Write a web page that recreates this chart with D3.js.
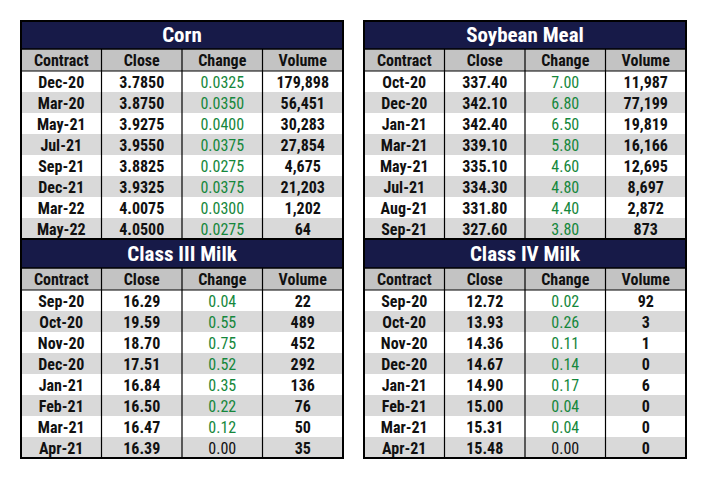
<!DOCTYPE html>
<html><head><meta charset="utf-8">
<script src="https://cdn.jsdelivr.net/npm/d3@7"></script>
<style>body{margin:0;background:#fff}</style>
</head><body>
<div id="chart"></div>
<script>
var TABLES = [
    { title: 'Corn', x: 21, y: 21, rows: [
        ['Dec-20', '3.7850', '0.0325', '179,898'],
        ['Mar-20', '3.8750', '0.0350', '56,451'],
        ['May-21', '3.9275', '0.0400', '30,283'],
        ['Jul-21', '3.9550', '0.0375', '27,854'],
        ['Sep-21', '3.8825', '0.0275', '4,675'],
        ['Dec-21', '3.9325', '0.0375', '21,203'],
        ['Mar-22', '4.0075', '0.0300', '1,202'],
        ['May-22', '4.0500', '0.0275', '64']] },
    { title: 'Soybean Meal', x: 364, y: 21, rows: [
        ['Oct-20', '337.40', '7.00', '11,987'],
        ['Dec-20', '342.10', '6.80', '77,199'],
        ['Jan-21', '342.40', '6.50', '19,819'],
        ['Mar-21', '339.10', '5.80', '16,166'],
        ['May-21', '335.10', '4.60', '12,695'],
        ['Jul-21', '334.30', '4.80', '8,697'],
        ['Aug-21', '331.80', '4.40', '2,872'],
        ['Sep-21', '327.60', '3.80', '873']] },
    { title: 'Class III Milk', x: 21, y: 240, rows: [
        ['Sep-20', '16.29', '0.04', '22'],
        ['Oct-20', '19.59', '0.55', '489'],
        ['Nov-20', '18.70', '0.75', '452'],
        ['Dec-20', '17.51', '0.52', '292'],
        ['Jan-21', '16.84', '0.35', '136'],
        ['Feb-21', '16.50', '0.22', '76'],
        ['Mar-21', '16.47', '0.12', '50'],
        ['Apr-21', '16.39', '0.00', '35']] },
    { title: 'Class IV Milk', x: 364, y: 240, rows: [
        ['Sep-20', '12.72', '0.02', '92'],
        ['Oct-20', '13.93', '0.26', '3'],
        ['Nov-20', '14.36', '0.11', '1'],
        ['Dec-20', '14.67', '0.14', '0'],
        ['Jan-21', '14.90', '0.17', '6'],
        ['Feb-21', '15.00', '0.04', '0'],
        ['Mar-21', '15.31', '0.04', '0'],
        ['Apr-21', '15.48', '0.00', '0']] }
];
var HEADERS = ['Contract', 'Close', 'Change', 'Volume'];
var W = 322, TITLE_H = 28, HEAD_H = 22, ROW_H = 21;
var FONT = '"Liberation Sans Narrow", "Roboto Condensed", "Open Sans", sans-serif';

var svg = d3.select('#chart').append('svg').attr('width', 708).attr('height', 482)
    .style('font-family', FONT);

TABLES.forEach(function(t, ti) {
    var g = svg.append('g').attr('transform', 'translate(' + t.x + ',' + t.y + ')');
    var x = d3.scaleBand().domain(d3.range(4)).range([0, W]);
    var bodyTop = TITLE_H + HEAD_H;
    var y = d3.scaleBand().domain(d3.range(t.rows.length)).range([bodyTop, bodyTop + ROW_H * t.rows.length]);
    var bottom = bodyTop + ROW_H * t.rows.length;
    // title
    g.append('rect').attr('width', W).attr('height', TITLE_H).attr('fill', '#171a48');
    g.append('text').attr('x', W / 2).attr('y', TITLE_H / 2 + 7).attr('text-anchor', 'middle')
        .attr('fill', '#fff').attr('font-size', 21).attr('font-weight', 'bold').text(t.title);
    // header
    g.append('rect').attr('y', TITLE_H).attr('width', W).attr('height', HEAD_H).attr('fill', '#c3c3c3');
    g.selectAll('.hd').data(HEADERS).join('text')
        .attr('x', function(d, i) { return x(i) + x.bandwidth() / 2; })
        .attr('y', TITLE_H + HEAD_H / 2 + 6).attr('text-anchor', 'middle')
        .attr('font-size', 16).attr('font-weight', 'bold').attr('fill', '#111').text(function(d) { return d; });
    // rows
    t.rows.forEach(function(r, ri) {
        g.append('rect').attr('y', y(ri)).attr('width', W).attr('height', ROW_H)
            .attr('fill', ri % 2 ? '#d9d9d9' : '#fff');
        r.forEach(function(v, ci) {
            g.append('text').attr('x', x(ci) + x.bandwidth() / 2).attr('y', y(ri) + ROW_H / 2 + 6)
                .attr('text-anchor', 'middle').attr('font-size', 16).attr('font-weight', ci === 2 ? 'normal' : 'bold')
                .attr('fill', ci === 2 && parseFloat(v) > 0 ? '#15873c' : '#111').text(v);
        });
    });
    // column lines
    [1, 2, 3].forEach(function(i) {
        g.append('line').attr('x1', x(i)).attr('x2', x(i)).attr('y1', TITLE_H).attr('y2', bottom)
            .attr('stroke', '#000').attr('stroke-width', 1.2);
    });
    g.append('line').attr('x1', 0).attr('x2', W).attr('y1', TITLE_H).attr('y2', TITLE_H).attr('stroke', '#000').attr('stroke-width', 1.5);
    g.append('line').attr('x1', 0).attr('x2', W).attr('y1', bodyTop).attr('y2', bodyTop).attr('stroke', '#000').attr('stroke-width', 1);
    var top = ti < 2 ? 0 : -1;
    g.append('rect').attr('y', top).attr('width', W).attr('height', bottom - top)
        .attr('fill', 'none').attr('stroke', '#000').attr('stroke-width', 2);
});
</script>
</body></html>
